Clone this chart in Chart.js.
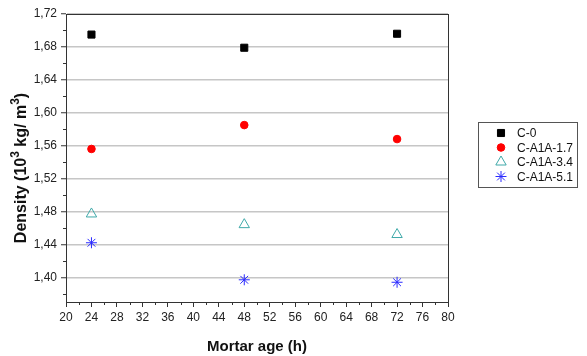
<!DOCTYPE html>
<html>
<head>
<meta charset="utf-8">
<script src="https://cdn.jsdelivr.net/npm/chart.js@4/dist/chart.umd.min.js"></script>
<style>
html,body{margin:0;padding:0;background:#fff;}
#wrap{width:587px;height:356px;position:relative;}
</style>
</head>
<body>
<div id="wrap"><canvas id="c" width="587" height="356"></canvas></div>
<script>
const ages = [24, 48, 72];
const seriesNames = ['C-0', 'C-A1A-1.7', 'C-A1A-3.4', 'C-A1A-5.1'];
const c0 = [1.695, 1.679, 1.696];
const c17 = [1.556, 1.585, 1.568];
const c34 = [1.477, 1.464, 1.452];
const c51 = [1.442, 1.397, 1.394];
const yTicks = [1.40, 1.44, 1.48, 1.52, 1.56, 1.60, 1.64, 1.68, 1.72];
const xTicks = [20, 24, 28, 32, 36, 40, 44, 48, 52, 56, 60, 64, 68, 72, 76, 80];
const yMinorTicks = [1.38, 1.42, 1.46, 1.50, 1.54, 1.58, 1.62, 1.66, 1.70];
const xMinorTicks = [22, 26, 30, 34, 38, 42, 46, 50, 54, 58, 62, 66, 70, 74, 78];
const yTitleParts = [['Density (10', false], ['3', true], [' kg/ m', false], ['3', true], [')', false]];

const FONT = "'Liberation Sans', Arial, sans-serif";
const toPts = vals => ages.map((a, i) => ({x: a, y: vals[i]}));

const styles = [
  {pointStyle: 'rect', radius: 5, bg: '#000000', border: '#000000', bw: 1},
  {pointStyle: 'circle', radius: 3.8, bg: '#ff0000', border: '#ff0000', bw: 1},
  {pointStyle: 'triangle', radius: 6, bg: 'rgba(0,0,0,0)', border: '#3fa9a9', bw: 1},
  {pointStyle: 'star', radius: 5.5, bg: '#2a2aff', border: '#2a2aff', bw: 1}
];
const allVals = [c0, c17, c34, c51];

const datasets = allVals.map((v, i) => ({
  label: seriesNames[i],
  data: toPts(v),
  pointStyle: styles[i].pointStyle,
  pointRadius: styles[i].radius,
  pointHoverRadius: styles[i].radius,
  backgroundColor: styles[i].bg,
  borderColor: styles[i].border,
  pointBorderWidth: styles[i].bw,
  showLine: false
}));

const framePlugin = {
  id: 'frame',
  afterDraw(chart) {
    const ctx = chart.ctx, a = chart.chartArea;
    const xs = chart.scales.x, ys = chart.scales.y;
    ctx.save();
    ctx.strokeStyle = '#333';
    ctx.lineWidth = 1;
    ctx.strokeRect(Math.round(a.left) + 0.5, Math.round(a.top) + 0.5, Math.round(a.right - a.left), Math.round(a.bottom - a.top));
    // minor ticks
    ctx.beginPath();
    xMinorTicks.forEach(v => {
      const px = Math.round(xs.getPixelForValue(v)) + 0.5;
      ctx.moveTo(px, a.bottom); ctx.lineTo(px, a.bottom + 3);
    });
    yMinorTicks.forEach(v => {
      const py = Math.round(ys.getPixelForValue(v)) + 0.5;
      ctx.moveTo(a.left, py); ctx.lineTo(a.left - 3, py);
    });
    ctx.stroke();
    // y title with superscripts
    const big = 'bold 16px ' + FONT, small = 'bold 12px ' + FONT;
    let total = 0;
    yTitleParts.forEach(([t, sup]) => { ctx.font = sup ? small : big; total += ctx.measureText(t).width; });
    ctx.translate(26, (a.top + a.bottom) / 2 + 10);
    ctx.rotate(-Math.PI / 2);
    ctx.fillStyle = '#111';
    ctx.textBaseline = 'alphabetic';
    ctx.textAlign = 'left';
    let cx = -total / 2;
    yTitleParts.forEach(([t, sup]) => {
      ctx.font = sup ? small : big;
      ctx.fillText(t, cx, sup ? -7 : 0);
      cx += ctx.measureText(t).width;
    });
    ctx.setTransform(1, 0, 0, 1, 0, 0);
    // legend
    const lx = 478, ly = 122, lw = 99, lh = 65;
    ctx.fillStyle = '#fff';
    ctx.fillRect(lx, ly, lw, lh);
    ctx.strokeStyle = '#555';
    ctx.lineWidth = 1;
    ctx.strokeRect(lx + 0.5, ly + 0.5, lw, lh);
    ctx.font = '12px ' + FONT;
    ctx.textBaseline = 'middle';
    ctx.textAlign = 'left';
    seriesNames.forEach((n, i) => {
      const y = ly + 11 + i * 14.5;
      const st = styles[i];
      ctx.fillStyle = st.bg;
      ctx.strokeStyle = st.border;
      ctx.lineWidth = st.bw;
      Chart.helpers.drawPoint(ctx, {pointStyle: st.pointStyle, radius: st.radius, borderWidth: st.bw}, 501, y);
      ctx.fillStyle = '#111';
      ctx.fillText(n, 517, y + 1);
    });
    ctx.restore();
  }
};

new Chart(document.getElementById('c'), {
  type: 'scatter',
  data: {datasets},
  options: {
    responsive: false,
    animation: false,
    devicePixelRatio: 1,
    layout: {padding: {top: 14, right: 139, left: 0, bottom: 0}},
    plugins: {legend: {display: false}, tooltip: {enabled: false}},
    scales: {
      x: {
        type: 'linear', min: 20, max: 80,
        afterBuildTicks: s => { s.ticks = xTicks.map(v => ({value: v})); },
        afterFit: s => { s.height = 54; },
        grid: {display: true, drawOnChartArea: false, drawTicks: true, tickLength: 5, color: '#333', tickColor: '#333'},
        border: {display: true, color: '#333', width: 1},
        ticks: {color: '#222', font: {family: FONT, size: 12}, padding: 3, maxRotation: 0, autoSkip: false},
        title: {display: true, text: 'Mortar age (h)', color: '#111', font: {family: FONT, size: 15, weight: 'bold'}, padding: {top: 5, bottom: 0}}
      },
      y: {
        type: 'linear', min: 1.37, max: 1.72,
        afterBuildTicks: s => { s.ticks = yTicks.map(v => ({value: v})); },
        afterFit: s => { s.width = 66; },
        grid: {display: true, drawOnChartArea: true, drawTicks: true, tickLength: 5, color: '#c6c6c6', lineWidth: 1.5, tickColor: '#333', tickWidth: 1},
        border: {display: true, color: '#333', width: 1},
        ticks: {color: '#222', font: {family: FONT, size: 12}, padding: 4, autoSkip: false,
          callback: v => v.toFixed(2).replace('.', ',')},
        title: {display: false, text: 'Density (10³ kg/ m³)'}
      }
    }
  },
  plugins: [framePlugin]
});
</script>
</body>
</html>
